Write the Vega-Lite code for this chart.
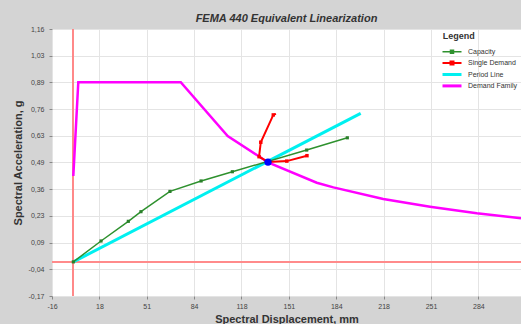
{
  "$schema": "https://vega.github.io/schema/vega-lite/v6.json",
  "width": 469,
  "height": 267,
  "autosize": {"type": "none"},
  "padding": {"left": 52, "top": 29, "right": 0, "bottom": 28},
  "background": "#d4d4d4",
  "config": {
    "view": {"fill": "#ffffff", "stroke": null},
    "font": "Liberation Sans",
    "axis": {"gridColor": "#e4e4e4", "gridWidth": 1, "domain": false, "tickColor": "#888888", "tickSize": 3, "labelFontSize": 7, "labelColor": "#444444", "labelFlush": false, "labelOverlap": false, "titleFontSize": 11, "titleFontWeight": "bold", "titleColor": "#333333"}
  },
  "title": {"text": "FEMA 440 Equivalent Linearization", "fontSize": 11, "fontWeight": "bold", "fontStyle": "italic", "color": "#333333", "anchor": "middle", "baseline": "alphabetic", "offset": 7, "dy": 15},
  "datasets": {
    "pts": [
      {"series": "Capacity", "i": 0, "x": 0, "y": 0},
      {"series": "Capacity", "i": 1, "x": 19.5, "y": 0.104},
      {"series": "Capacity", "i": 2, "x": 38.7, "y": 0.202},
      {"series": "Capacity", "i": 3, "x": 47.6, "y": 0.25},
      {"series": "Capacity", "i": 4, "x": 68, "y": 0.351},
      {"series": "Capacity", "i": 5, "x": 89.9, "y": 0.403},
      {"series": "Capacity", "i": 6, "x": 111.9, "y": 0.449},
      {"series": "Capacity", "i": 7, "x": 164.2, "y": 0.557},
      {"series": "Capacity", "i": 8, "x": 192.8, "y": 0.618},
      {"series": "Single Demand", "i": 0, "x": 142.6, "y": 0.737},
      {"series": "Single Demand", "i": 1, "x": 140.7, "y": 0.732},
      {"series": "Single Demand", "i": 2, "x": 131.9, "y": 0.596},
      {"series": "Single Demand", "i": 3, "x": 130.7, "y": 0.524},
      {"series": "Single Demand", "i": 4, "x": 137, "y": 0.497},
      {"series": "Single Demand", "i": 5, "x": 150.2, "y": 0.502},
      {"series": "Single Demand", "i": 6, "x": 164.4, "y": 0.529},
      {"series": "Period Line", "i": 0, "x": 0, "y": 0},
      {"series": "Period Line", "i": 1, "x": 202.2, "y": 0.74},
      {"series": "Demand Family", "i": 0, "x": 0, "y": 0.428},
      {"series": "Demand Family", "i": 1, "x": 3.5, "y": 0.895},
      {"series": "Demand Family", "i": 2, "x": 75.6, "y": 0.895},
      {"series": "Demand Family", "i": 3, "x": 108.6, "y": 0.627},
      {"series": "Demand Family", "i": 4, "x": 130.3, "y": 0.527},
      {"series": "Demand Family", "i": 5, "x": 137, "y": 0.495},
      {"series": "Demand Family", "i": 6, "x": 171.3, "y": 0.394},
      {"series": "Demand Family", "i": 7, "x": 183, "y": 0.371},
      {"series": "Demand Family", "i": 8, "x": 218.1, "y": 0.313},
      {"series": "Demand Family", "i": 9, "x": 251, "y": 0.275},
      {"series": "Demand Family", "i": 10, "x": 283.9, "y": 0.242},
      {"series": "Demand Family", "i": 11, "x": 315, "y": 0.217}
    ],
    "perf": [{"x": 137, "y": 0.497}]
  },
  "data": {"name": "pts"},
  "encoding": {
    "x": {"field": "x", "type": "quantitative", "scale": {"domain": [-15, 315], "nice": false, "zero": false},
      "axis": {"values": [-15, 18.333, 51.667, 85, 118.333, 151.667, 185, 218.333, 251.667, 285], "labelExpr": "['-16','18','51','84','118','151','184','218','251','284'][round((datum.value+15)/33.333)]", "labelPadding": 3, "title": "Spectral Displacement, mm", "titleBaseline": "alphabetic", "titleY": 26}},
    "y": {"field": "y", "type": "quantitative", "scale": {"domain": [-0.17, 1.16], "nice": false, "zero": false},
      "axis": {"values": [-0.17, -0.037, 0.096, 0.229, 0.362, 0.495, 0.628, 0.761, 0.894, 1.027, 1.16], "labelExpr": "['-0,17','-0,04','0,09','0,23','0,36','0,49','0,63','0,76','0,89','1,03','1,16'][round((datum.value+0.17)/0.133)]", "labelPadding": 5, "title": "Spectral Acceleration, g", "titleX": -34, "titleY": 133.5, "titleAngle": -90, "titleAlign": "center", "titleBaseline": "middle"}}
  },
  "layer": [
    {"mark": {"type": "rule", "color": "#ff8a8a", "strokeWidth": 1}, "encoding": {"x": {"datum": 0}, "y": null}},
    {"mark": {"type": "rule", "color": "#ff8a8a", "strokeWidth": 1}, "encoding": {"y": {"datum": 0}, "x": null}},
    {"transform": [{"filter": "datum.series == 'Period Line'"}], "mark": {"type": "line", "strokeWidth": 3, "clip": true},
      "encoding": {"order": {"field": "i"}, "color": {"field": "series", "type": "nominal", "scale": {"domain": ["Capacity", "Single Demand", "Period Line", "Demand Family"], "range": ["#2e912e", "#ff0000", "#00f0f0", "#ff00ff"]},
        "legend": {"orient": "none", "legendX": 390.7, "legendY": 3.2, "padding": 0, "title": "Legend", "titleFontSize": 9, "titleFontWeight": "bold", "titleColor": "#333333", "titlePadding": 7, "labelFontSize": 7, "labelColor": "#333333", "labelOffset": 18.3, "rowPadding": -1.6, "gridAlign": "all", "symbolSize": 100, "symbolType": "M-0.74,0H3.06", "symbolStrokeWidth": 2,
          "encode": {"symbols": {"update": {
            "shape": {"signal": "datum.label == 'Capacity' || datum.label == 'Single Demand' ? 'M-0.74,0H3.06M0.86,-0.3H1.46V0.3H0.86Z' : 'M-0.74,0H3.06'"},
            "strokeWidth": {"signal": "datum.label == 'Capacity' ? 1.5 : datum.label == 'Single Demand' ? 2 : 3"},
            "fill": {"scale": "color", "field": "value"},
            "opacity": {"value": 1}
          }}}}}}},
    {"transform": [{"filter": "datum.series == 'Capacity'"}], "mark": {"type": "line", "strokeWidth": 1.5, "clip": true},
      "encoding": {"order": {"field": "i"}, "color": {"field": "series", "type": "nominal"}}},
    {"transform": [{"filter": "datum.series == 'Demand Family'"}], "mark": {"type": "line", "strokeWidth": 2.5, "clip": true},
      "encoding": {"order": {"field": "i"}, "color": {"field": "series", "type": "nominal"}}},
    {"transform": [{"filter": "datum.series == 'Single Demand'"}], "mark": {"type": "line", "strokeWidth": 2, "clip": true},
      "encoding": {"order": {"field": "i"}, "color": {"field": "series", "type": "nominal"}}},
    {"transform": [{"filter": "datum.series == 'Capacity'"}], "mark": {"type": "square", "size": 10, "color": "#2a7f2a", "opacity": 1, "clip": true}},
    {"transform": [{"filter": "datum.series == 'Single Demand' && datum.i > 0 && datum.i != 4"}], "mark": {"type": "square", "size": 12, "color": "#ff0000", "opacity": 1, "clip": true}},
    {"data": {"name": "perf"}, "mark": {"type": "circle", "size": 55, "color": "#0000ff", "opacity": 1}}
  ]
}
